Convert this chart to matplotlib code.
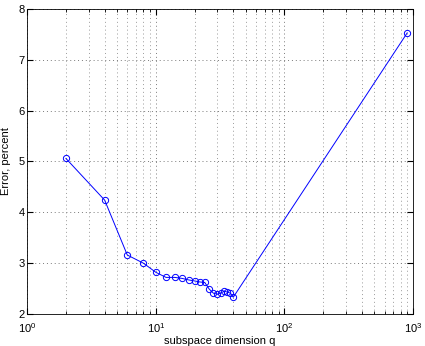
import matplotlib
matplotlib.use("Agg")
import matplotlib.pyplot as plt
from matplotlib.ticker import LogLocator, NullFormatter

plt.rcParams['font.family'] = ['Liberation Sans', 'DejaVu Sans']

q = [2, 4, 6, 8, 10, 12, 14, 16, 18, 20, 22, 24, 26, 28, 30, 32, 34, 36, 38, 40, 900]
err = [5.06, 4.24, 3.16, 3.00, 2.82, 2.72, 2.72, 2.70, 2.67, 2.65, 2.63, 2.62,
       2.49, 2.41, 2.39, 2.41, 2.45, 2.43, 2.41, 2.33, 7.53]

xlabel = "subspace dimension q"
ylabel = "Error, percent"

fig = plt.figure(figsize=(4.25, 3.46), dpi=100)
ax = fig.add_axes([0.064, 0.0925, 0.908, 0.8815])
ax.semilogx(q, err, '-o', color='#0000ff', lw=0.7, ms=4.5, mfc='none', mew=0.7)
ax.set_xlim(1, 1000)
ax.set_ylim(2, 8)
ax.set_yticks([2, 3, 4, 5, 6, 7, 8])
ax.xaxis.set_major_locator(LogLocator(base=10, numticks=10))
ax.xaxis.set_minor_locator(LogLocator(base=10, subs=range(2, 10), numticks=10))
ax.xaxis.set_minor_formatter(NullFormatter())
ax.grid(True, which='major', axis='both', ls=(0, (1, 3)), color='#7a7a7a', lw=0.7)
ax.grid(True, which='minor', axis='x', ls=(0, (1, 3)), color='#9a9a9a', lw=0.7)
ax.tick_params(which='both', direction='in', top=True, right=True, labelsize=8)
ax.tick_params(axis='x', pad=5)
ax.tick_params(axis='y', pad=2)
ax.tick_params(which='major', length=4)
ax.tick_params(which='minor', length=2)
for s in ax.spines.values():
    s.set_linewidth(0.6)
ax.set_xlabel(xlabel, fontsize=8, labelpad=1)
ax.set_ylabel(ylabel, fontsize=8, labelpad=5)
fig.savefig("out.png", dpi=100)
